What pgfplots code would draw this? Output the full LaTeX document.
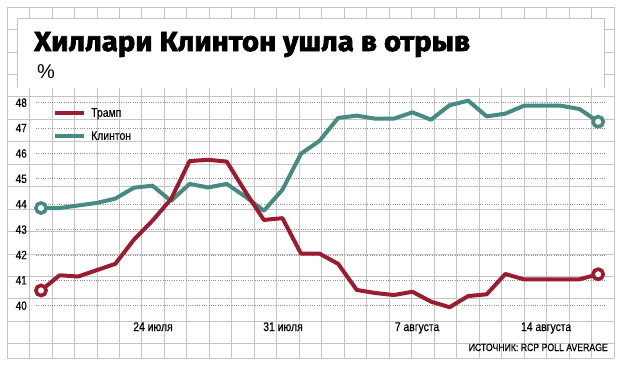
\documentclass[border=0pt]{standalone}
\usepackage{fontspec}
\setmainfont{Liberation Sans}
\newfontfamily\condfont{Liberation Sans}[FakeStretch=0.83, FakeBold=0.4]
\newfontfamily\titlefont{Fira Sans}
\usepackage{pgfplots}
\pgfplotsset{compat=1.18}
\usetikzlibrary{backgrounds}
\definecolor{trump}{HTML}{9B1B30}
\definecolor{clinton}{HTML}{478A80}
\definecolor{gridc}{HTML}{C4C4C4}
\begin{document}
\begin{tikzpicture}[x=1bp,y=1bp]
\begin{axis}[
  name=ax,
  scale only axis, width=569bp, height=203bp,
  xmin=-0.27, xmax=30.37, ymin=40, ymax=48,
  clip=false,
  axis line style={draw=none},
  major tick length=0pt,
  ytick={40,41,...,48},
  xtick={6.03,13.03,20.25,27.2},
  xticklabels={24 июля, 31 июля, 7 августа, 14 августа},
  /pgf/number format/assume math mode=true,
  ymajorgrids,
  grid style={color=gray!85, line width=0.9bp, dash pattern=on 1bp off 1.3bp},
  yticklabel style={font=\condfont\fontsize{12bp}{14bp}\selectfont, anchor=east, inner sep=0pt, xshift=-9bp},
  xticklabel style={font=\condfont\fontsize{12.5bp}{14bp}\selectfont, anchor=base, inner sep=0pt, yshift=-25.3bp},
  legend style={at={(axis description cs:0.03,0.974)}, anchor=north west, draw=none, fill=none, inner sep=0pt, row sep=13bp, column sep=5bp, nodes={inner sep=0pt}, font=\condfont\fontsize{12.5bp}{14bp}\selectfont},
  legend cell align=left,
  reverse legend,
  legend image code/.code={\draw[#1, line width=4bp] (0bp,0bp) -- (29bp,0bp);},
]
\coordinate (o) at (rel axis cs:0,0);
\addplot[clinton, line width=4bp, line join=round] coordinates {
(0,43.85)(1,43.85)(2,43.95)(3,44.05)(4,44.22)(5,44.65)(6,44.73)(7,44.13)(8,44.8)(9,44.66)(10,44.8)(11,44.3)(12,43.74)(13,44.57)(14,45.99)(15,46.5)(16,47.4)(17,47.49)(18,47.37)(19,47.37)(20,47.62)(21,47.33)(22,47.9)(23,48.08)(24,47.46)(25,47.57)(26,47.88)(27,47.88)(28,47.88)(29,47.75)(30,47.25)};
\addlegendentry{Клинтон}
\addplot[trump, line width=4bp, line join=round] coordinates {
(0,40.6)(1,41.2)(2,41.15)(3,41.4)(4,41.65)(5,42.6)(6,43.35)(7,44.2)(8,45.7)(9,45.75)(10,45.68)(11,44.5)(12,43.38)(13,43.45)(14,42.05)(15,42.05)(16,41.65)(17,40.62)(18,40.5)(19,40.42)(20,40.55)(21,40.16)(22,39.94)(23,40.38)(24,40.45)(25,41.25)(26,41.04)(27,41.04)(28,41.04)(29,41.04)(30,41.24)};
\addlegendentry{Трамп}
\addplot[only marks, mark=*, mark size=5.1bp, mark options={draw=clinton, fill=white, line width=3.6bp}, forget plot] coordinates {(0,43.85)(30,47.25)};
\addplot[only marks, mark=*, mark size=5.1bp, mark options={draw=trump, fill=white, line width=3.6bp}, forget plot] coordinates {(0,40.6)(30,41.24)};
\end{axis}
\begin{scope}[shift={(o)}, xshift=-36bp, yshift=-61.3bp]
\begin{scope}[on background layer]
\foreach \i in {0,...,27} {\draw[gridc, line width=0.8bp] ({7+22.48*\i},9) -- ({7+22.48*\i},360);}
\foreach \j in {0,...,15} {\draw[gridc, line width=0.8bp] (7,{360-22.45*\j}) -- (614,{360-22.45*\j});}
\draw[gridc, line width=0.8bp] (7,9) -- (614,9);
\fill[white] (17,279) rectangle (604,349);
\draw[gridc, line width=0.8bp] (17,279) -- (17,349) -- (604,349) -- (604,279);
\end{scope}
\node[anchor=base west, inner sep=0pt] at (34,316) {\titlefont\bfseries\addfontfeatures{FakeBold=2.5, FakeStretch=1.06}\fontsize{27.6bp}{30bp}\selectfont Хиллари Клинтон ушла в отрыв};
\node[anchor=base west, inner sep=0pt] at (37,289) {\fontsize{20bp}{22bp}\selectfont\%};
\node[anchor=base east, inner sep=0pt] at (608,16) {\condfont\fontsize{10.5bp}{12bp}\selectfont ИСТОЧНИК: RCP POLL AVERAGE};
\pgfresetboundingbox
\useasboundingbox (0,0) rectangle (623,367);
\end{scope}
\end{tikzpicture}
\end{document}
